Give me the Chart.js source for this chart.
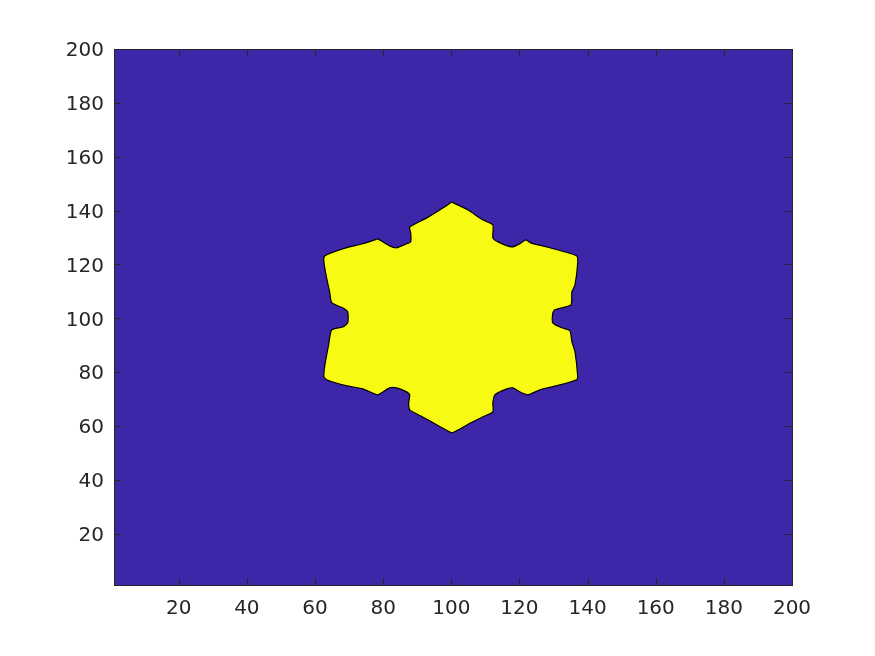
<!DOCTYPE html>
<html>
<head>
<meta charset="utf-8">
<script src="https://cdn.jsdelivr.net/npm/chart.js@4.4.1/dist/chart.umd.min.js"></script>
<style>
  html, body { margin: 0; padding: 0; background: #fff; }
  #wrap { width: 875px; height: 656px; }
</style>
</head>
<body>
<div id="wrap"><canvas id="myChart" width="875" height="656"></canvas></div>
<script>
// axis ticks
const xTicks = [20, 40, 60, 80, 100, 120, 140, 160, 180, 200];
const yTicks = [20, 40, 60, 80, 100, 120, 140, 160, 180, 200];

// outline of the level-set region, clockwise from the top
const outlineX = [
  100.1, 104.8, 109.2, 112.2, 112.2, 113.7, 117.8, 120.1, 121.9, 123.3,
  128.0, 136.8, 137.1, 136.3, 135.4, 135.1, 130.4, 129.8, 129.8,
  132.4, 134.8, 135.4, 136.3, 137.1, 136.8, 131.9, 126.0, 122.5, 120.1,
  118.1, 116.3, 112.8, 112.2, 112.2, 109.2, 106.3, 101.0, 100.1,
  95.7, 91.6, 87.8, 87.5, 87.8, 86.9, 83.9, 81.9, 78.4, 76.9,
  74.0, 68.1, 63.4, 62.6, 62.9, 64.0, 64.9, 68.1, 69.6,
  69.6, 68.1, 64.9, 64.3, 63.4, 62.6, 62.9, 68.1, 74.0, 77.5,
  78.4, 81.9, 83.9, 86.9, 88.1, 88.1, 87.8, 92.8, 97.5, 100.1
];
const outlineY = [
  143.2, 140.3, 136.6, 134.7, 129.9, 128.4, 126.5, 127.7, 129.1, 128.0,
  126.5, 123.2, 120.6, 112.4, 109.8, 105.0, 103.2, 102.0, 98.3,
  96.5, 95.4, 91.3, 87.6, 78.3, 77.2, 75.3, 73.5, 71.6, 72.7,
  74.2, 73.8, 71.6, 68.6, 65.3, 63.4, 61.6, 57.9, 57.5,
  60.5, 63.4, 66.0, 68.6, 71.6, 72.7, 74.2, 74.2, 71.6, 72.3,
  73.8, 75.3, 77.2, 78.3, 82.7, 90.2, 95.7, 96.8, 98.3,
  102.4, 103.9, 105.8, 109.8, 115.0, 121.0, 123.2, 125.8, 127.7, 129.1,
  129.5, 126.9, 126.2, 127.7, 128.4, 131.6, 133.9, 137.3, 141.0, 143.2
];

const lowColor = 'rgb(62, 38, 168)';
const highColor = 'rgb(249, 250, 20)';
const axisColor = '#262626';
const tickFont = { family: 'DejaVu Sans', size: 20 };

const points = outlineX.map((x, i) => ({ x: x, y: outlineY[i] }));

const framePlugin = {
  id: 'frame',
  beforeDatasetsDraw(chart) {
    const { ctx, chartArea: a } = chart;
    ctx.save();
    ctx.fillStyle = lowColor;
    ctx.fillRect(a.left, a.top, a.right - a.left, a.bottom - a.top);
    ctx.restore();
  },
  afterDatasetsDraw(chart) {
    const { ctx, chartArea: a, scales } = chart;
    const len = 7;
    ctx.save();
    ctx.strokeStyle = axisColor;
    ctx.lineWidth = 1;
    ctx.beginPath();
    xTicks.forEach(v => {
      const px = Math.round(scales.x.getPixelForValue(v)) + 0.5;
      ctx.moveTo(px, a.bottom); ctx.lineTo(px, a.bottom - len);
      ctx.moveTo(px, a.top); ctx.lineTo(px, a.top + len);
    });
    yTicks.forEach(v => {
      const py = Math.round(scales.y.getPixelForValue(v)) + 0.5;
      ctx.moveTo(a.left, py); ctx.lineTo(a.left + len, py);
      ctx.moveTo(a.right, py); ctx.lineTo(a.right - len, py);
    });
    ctx.stroke();
    ctx.strokeRect(Math.round(a.left) + 0.5, Math.round(a.top) + 0.5,
      Math.round(a.right - a.left), Math.round(a.bottom - a.top));
    ctx.restore();
  }
};

const ctx = document.getElementById('myChart').getContext('2d');

const myChart = new Chart(ctx, {
  type: 'scatter',
  data: {
    datasets: [{
      data: points,
      showLine: true,
      fill: 'shape',
      backgroundColor: highColor,
      borderColor: '#000',
      borderWidth: 1.2,
      pointRadius: 0,
      tension: 0.2
    }]
  },
  options: {
    responsive: false,
    animation: false,
    layout: { padding: { left: 0, right: 83, top: 49, bottom: 0 } },
    plugins: { legend: { display: false }, tooltip: { enabled: false } },
    scales: {
      x: {
        type: 'linear',
        min: 1,
        max: 200,
        afterBuildTicks: scale => { scale.ticks = xTicks.map(v => ({ value: v })); },
        afterFit: scale => { scale.height = 71; },
        grid: { display: false },
        border: { display: false },
        ticks: { color: axisColor, font: tickFont, padding: 4, maxRotation: 0, autoSkip: false }
      },
      y: {
        type: 'linear',
        min: 1,
        max: 200,
        afterBuildTicks: scale => { scale.ticks = yTicks.map(v => ({ value: v })); },
        afterFit: scale => { scale.width = 114; },
        grid: { display: false },
        border: { display: false },
        ticks: { color: axisColor, font: tickFont, padding: 2, labelOffset: 2, autoSkip: false }
      }
    }
  },
  plugins: [framePlugin]
});
</script>
</body>
</html>
